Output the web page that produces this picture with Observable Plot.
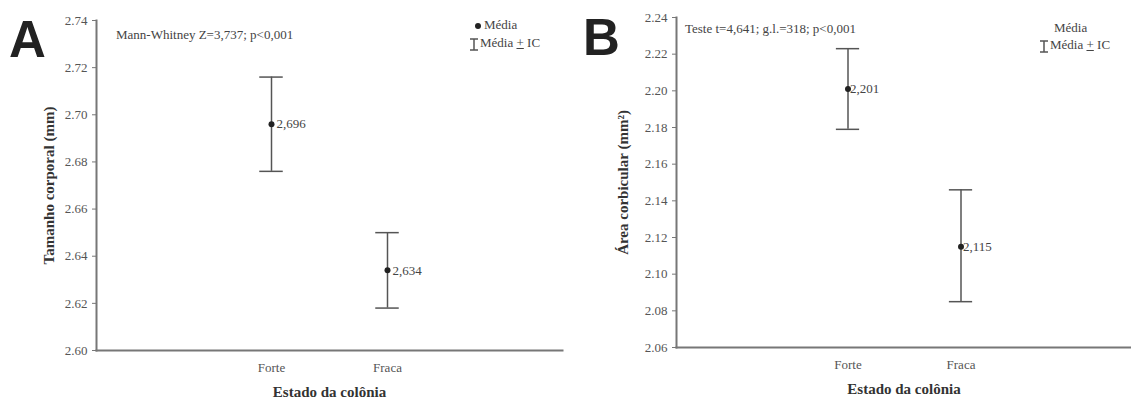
<!DOCTYPE html>
<html>
<head>
<meta charset="utf-8">
<script src="https://cdn.jsdelivr.net/npm/d3@7"></script>
<script src="https://cdn.jsdelivr.net/npm/@observablehq/plot@0.6"></script>
<style>
  html, body { margin: 0; padding: 0; background: #fff; }
  #wrap { position: relative; width: 1131px; height: 399px; overflow: hidden; font-family: "Liberation Serif", "Times New Roman", serif; }
  #wrap svg text { font-family: "Liberation Serif", "Times New Roman", serif; }
  .panel { position: absolute; top: 0; }
  .letter { position: absolute; font-family: "Liberation Sans", Arial, sans-serif; font-weight: bold; font-size: 51px; line-height: 1; color: #222; }
  .ann { position: absolute; font-family: "Liberation Serif", "Times New Roman", serif; font-size: 13px; color: #444; white-space: nowrap; line-height: 1; }
  .leg { position: absolute; font-family: "Liberation Serif", "Times New Roman", serif; font-size: 13px; color: #444; white-space: nowrap; line-height: 1; }
  .leg svg { vertical-align: middle; }
  u { text-decoration: underline; }
</style>
</head>
<body>
<div id="wrap"></div>
<script>
// ---- data ----
const groups = ["Forte", "Fraca"];
const xDomain = ["", "Forte", "Fraca", " "];

const meanA = [2.696, 2.634];
const lowA  = [2.676, 2.618];
const highA = [2.716, 2.650];
const labelA = ["2,696", "2,634"];
const yTicksA = [2.60, 2.62, 2.64, 2.66, 2.68, 2.70, 2.72, 2.74];

const meanB = [2.201, 2.115];
const lowB  = [2.179, 2.085];
const highB = [2.223, 2.146];
const labelB = ["2,201", "2,115"];
const yTicksB = [2.06, 2.08, 2.10, 2.12, 2.14, 2.16, 2.18, 2.20, 2.22, 2.24];

const titleA = "Tamanho corporal (mm)";
const titleB = "Área corbicular (mm²)";
const xTitle = "Estado da colônia";
const annA = "Mann-Whitney Z=3,737; p<0,001";
const annB = "Teste t=4,641; g.l.=318; p<0,001";

const serif = '"Liberation Serif", "Times New Roman", serif';

function makePanel({mean, low, high, label, ticks, yTitle, width, marginLeft, marginRight, marginTop, marginBottom, labelOffset, dxLabel}) {
  const rows = groups.map((g, i) => ({g, mean: mean[i], low: low[i], high: high[i], label: label[i]}));
  const bw = (width - marginLeft - marginRight) / xDomain.length;
  const capInset = bw / 2 - 12;
  return Plot.plot({
    width, height: 399,
    marginLeft, marginRight, marginTop, marginBottom,
    style: {fontFamily: serif, fontSize: "13px", color: "#555", background: "white", overflow: "visible"},
    x: {type: "band", domain: xDomain, padding: 0},
    y: {domain: [ticks[0], ticks[ticks.length - 1]]},
    marks: [
      Plot.axisY({ticks, tickFormat: d3.format(".2f"), tickSize: 4, tickPadding: 5, stroke: "#777",
        label: yTitle, labelAnchor: "center", labelOffset, labelArrow: false,
        fontSize: 13, fill: "#555"}),
      Plot.axisX({ticks: groups, tickSize: 0, tickPadding: 12, fontSize: 13, fill: "#555",
        label: xTitle, labelAnchor: "center", labelOffset: 46, labelArrow: false}),
      Plot.frame({anchor: "left", stroke: "#777", strokeWidth: 2}),
      Plot.frame({anchor: "bottom", stroke: "#777", strokeWidth: 2}),
      Plot.ruleX(rows, {x: "g", y1: "low", y2: "high", stroke: "#555", strokeWidth: 1.5}),
      Plot.tickY(rows, {x: "g", y: "low", stroke: "#555", strokeWidth: 1.5, insetLeft: capInset, insetRight: capInset}),
      Plot.tickY(rows, {x: "g", y: "high", stroke: "#555", strokeWidth: 1.5, insetLeft: capInset, insetRight: capInset}),
      Plot.dot(rows, {x: "g", y: "mean", r: 3, fill: "#222", stroke: "none"}),
      Plot.text(rows, {x: "g", y: "mean", text: "label", textAnchor: "start", dx: dxLabel, fontSize: 13, fill: "#444"})
    ]
  });
}

const wrap = document.getElementById("wrap");

const pA = makePanel({mean: meanA, low: lowA, high: highA, label: labelA, ticks: yTicksA, yTitle: titleA,
  width: 565, marginLeft: 96, marginRight: 3, marginTop: 20, marginBottom: 49, labelOffset: 53, dxLabel: 5});
const pB = makePanel({mean: meanB, low: lowB, high: highB, label: labelB, ticks: yTicksB, yTitle: titleB,
  width: 566, marginLeft: 111, marginRight: 0, marginTop: 17, marginBottom: 52, labelOffset: 59, dxLabel: 2});

for (const [p, left] of [[pA, 0], [pB, 565]]) {
  const d = document.createElement("div");
  d.className = "panel";
  d.style.left = left + "px";
  d.appendChild(p);
  wrap.appendChild(d);
}

// bold axis titles
wrap.querySelectorAll("[aria-label='y-axis label'] text, [aria-label='x-axis label'] text").forEach(t => {
  t.setAttribute("font-weight", "bold");
  t.setAttribute("font-size", "15");
  t.setAttribute("fill", "#333");
});

function addDiv(cls, html, left, top) {
  const d = document.createElement("div");
  d.className = cls;
  d.innerHTML = html;
  d.style.left = left + "px";
  d.style.top = top + "px";
  wrap.appendChild(d);
}

const ciIcon = `<svg width="10" height="13" style="margin-right:1px"><g stroke="#555" stroke-width="1.5"><line x1="1" y1="1" x2="9" y2="1"/><line x1="5" y1="1" x2="5" y2="12"/><line x1="1" y1="12" x2="9" y2="12"/></g></svg>`;
const dotIcon = `<svg width="10" height="10" style="margin-right:1px"><circle cx="5" cy="5" r="3" fill="#222"/></svg>`;

addDiv("letter", "A", 9, 14);
addDiv("letter", "B", 583, 12);
addDiv("ann", annA, 116, 28);
addDiv("ann", annB, 685, 22);
addDiv("leg", dotIcon + "Média", 473, 18);
addDiv("leg", ciIcon + "Média <u>+</u> IC", 469, 36);
addDiv("leg", "Média", 1054, 21);
addDiv("leg", ciIcon + "Média <u>+</u> IC", 1039, 38);
</script>
</body>
</html>
